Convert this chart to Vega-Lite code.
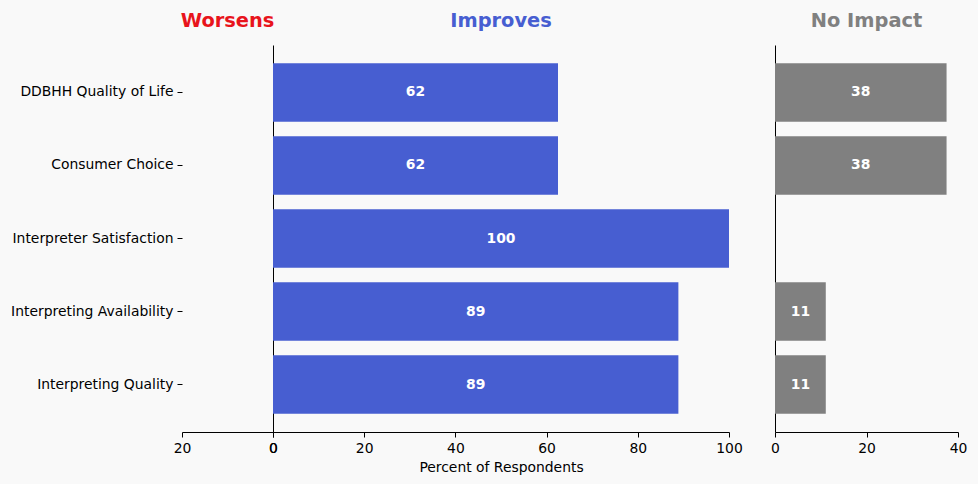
{
  "$schema": "https://vega.github.io/schema/vega-lite/v6.json",
  "background": "#f9f9f9",
  "padding": {"left": 10, "top": 10, "right": 11, "bottom": 9},
  "config": {
    "view": {"stroke": null},
    "font": "DejaVu Sans",
    "axis": {"labelFont": "DejaVu Sans", "labelFontSize": 13.9, "labelColor": "#000", "domainColor": "#000", "tickColor": "#000", "grid": false, "titleFont": "DejaVu Sans", "titleFontSize": 13.9, "titleFontWeight": "normal", "titleColor": "#000", "tickSize": 5, "labelPadding": 4, "labelFlush": false, "labelOverlap": false},
    "title": {"font": "DejaVu Sans", "fontSize": 19.4, "fontWeight": "bold", "offset": 14}
  },
  "data": {"values": [
    {"category": "DDBHH Quality of Life", "worsens": 0, "improves": 62.5, "improvesLabel": "62", "noimpact": 37.5, "noimpactLabel": "38"},
    {"category": "Consumer Choice", "worsens": 0, "improves": 62.5, "improvesLabel": "62", "noimpact": 37.5, "noimpactLabel": "38"},
    {"category": "Interpreter Satisfaction", "worsens": 0, "improves": 100, "improvesLabel": "100", "noimpact": 0, "noimpactLabel": ""},
    {"category": "Interpreting Availability", "worsens": 0, "improves": 88.9, "improvesLabel": "89", "noimpact": 11.1, "noimpactLabel": "11"},
    {"category": "Interpreting Quality", "worsens": 0, "improves": 88.9, "improvesLabel": "89", "noimpact": 11.1, "noimpactLabel": "11"}
  ]},
  "spacing": 27,
  "hconcat": [
    {
      "spacing": 0,
      "bounds": "flush",
      "hconcat": [
        {
          "width": 91, "height": 387,
          "title": {"text": "Worsens", "color": "#e8141c"},
          "mark": {"type": "bar", "color": "#e8141c"},
          "encoding": {
            "y": {"field": "category", "type": "nominal", "sort": null, "scale": {"paddingInner": 0.2, "paddingOuter": 0.25}, "axis": {"title": null, "domain": false}},
            "x": {"field": "worsens", "type": "quantitative", "scale": {"domain": [0, 20], "reverse": true, "nice": false}, "axis": {"values": [0, 20], "title": null}}
          }
        },
        {
          "width": 456, "height": 387,
          "title": {"text": "Improves", "color": "#475ed1"},
          "encoding": {
            "y": {"field": "category", "type": "nominal", "sort": null, "scale": {"paddingInner": 0.2, "paddingOuter": 0.25}, "axis": {"title": null, "labels": false, "ticks": false, "domain": true}}
          },
          "layer": [
            {
              "mark": {"type": "bar", "color": "#475ed1"},
              "encoding": {
                "x": {"field": "improves", "type": "quantitative", "scale": {"domain": [0, 100], "nice": false}, "axis": {"values": [0, 20, 40, 60, 80, 100], "title": "Percent of Respondents", "titlePadding": 6}}
              }
            },
            {
              "transform": [{"calculate": "datum.improves / 2", "as": "mid"}],
              "mark": {"type": "text", "color": "white", "fontWeight": "bold", "fontSize": 13.9, "font": "DejaVu Sans"},
              "encoding": {
                "x": {"field": "mid", "type": "quantitative"},
                "text": {"field": "improvesLabel"}
              }
            }
          ]
        }
      ]
    },
    {
      "width": 183, "height": 387,
      "title": {"text": "No Impact", "color": "#808080"},
      "encoding": {
        "y": {"field": "category", "type": "nominal", "sort": null, "scale": {"paddingInner": 0.2, "paddingOuter": 0.25}, "axis": {"title": null, "labels": false, "ticks": false, "domain": true}}
      },
      "layer": [
        {
          "mark": {"type": "bar", "color": "#808080"},
          "encoding": {
            "x": {"field": "noimpact", "type": "quantitative", "scale": {"domain": [0, 40], "nice": false}, "axis": {"values": [0, 20, 40], "title": null}}
          }
        },
        {
          "transform": [{"filter": "datum.noimpact > 0"}, {"calculate": "datum.noimpact / 2", "as": "mid"}],
          "mark": {"type": "text", "color": "white", "fontWeight": "bold", "fontSize": 13.9, "font": "DejaVu Sans"},
          "encoding": {
            "x": {"field": "mid", "type": "quantitative"},
            "text": {"field": "noimpactLabel"}
          }
        }
      ]
    }
  ]
}
